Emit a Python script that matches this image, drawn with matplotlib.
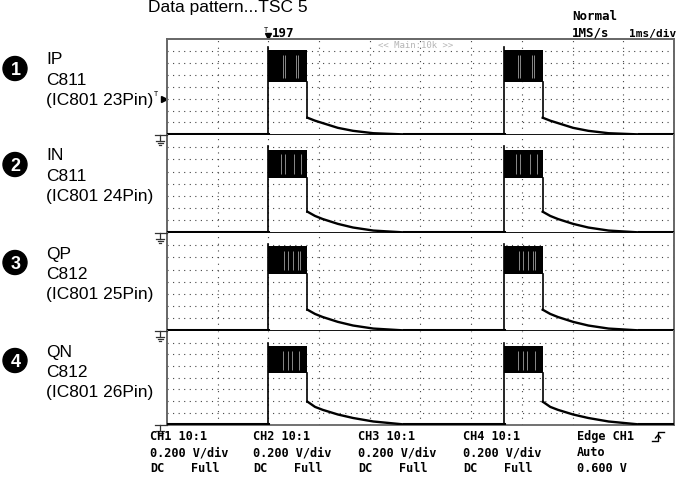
#!/usr/bin/env python3
"""Four channel scope capture (IP / IN / QP / QN), redrawn with matplotlib."""

import matplotlib
matplotlib.use("Agg")
import matplotlib.pyplot as plt
from matplotlib.patches import Ellipse
from matplotlib.lines import Line2D
from matplotlib.transforms import blended_transform_factory

# Channel data (1 ms/div, 0.2 V/div, ground at panel bottom)
channels = ["IP", "IN", "QP", "QN"]
capacitors = ["C811", "C811", "C812", "C812"]
pins = ["(IC801 23Pin)", "(IC801 24Pin)", "(IC801 25Pin)", "(IC801 26Pin)"]
burst_starts = [0.0, 4.64]          # ms
burst_length = 0.77                 # ms
burst_top = [1.42, 1.36, 1.38, 1.34]      # V
burst_bottom = [0.88, 0.90, 0.93, 0.88]   # V
burst_peak = [1.46, 1.42, 1.42, 1.40]     # V, spike on the leading edge
stripe_offsets = [
    [0.28, 0.32, 0.55, 0.59],
    [0.24, 0.32, 0.51, 0.65],
    [0.30, 0.38, 0.48, 0.58, 0.62],
    [0.28, 0.38, 0.47, 0.61],
]
decay_t = [0.0, 0.15, 0.3, 0.6, 0.9, 1.3, 1.9]   # ms after the burst
decay_v = [
    [0.28, 0.23, 0.19, 0.11, 0.06, 0.02, 0.0],
    [0.34, 0.27, 0.22, 0.14, 0.08, 0.03, 0.0],
    [0.34, 0.27, 0.22, 0.14, 0.08, 0.03, 0.0],
    [0.39, 0.30, 0.25, 0.17, 0.11, 0.05, 0.0],
]
trigger_level = 0.6   # V on CH1

# Readout text along the bottom of the screen
readout_ch = ["CH1 10:1", "CH2 10:1", "CH3 10:1", "CH4 10:1"]
readout_scale = ["0.200 V/div"] * 4
readout_coupling = ["DC", "DC", "DC", "DC"]
readout_bw = ["Full", "Full", "Full", "Full"]
trigger_info = ["Edge CH1", "Auto", "0.600 V"]

# Layout in pixels
W, H = 677, 478
FRAME_L, FRAME_R = 167, 674
panel_edges = [39, 135, 233, 331, 425]
T_MIN, T_MAX = -2.0, 8.0
V_MAX = 1.6

SANS = "Liberation Sans"
MONO = "DejaVu Sans Mono"


def fx(x):
    return x / W


def fy(y):
    return 1 - y / H


fig = plt.figure(figsize=(W / 100, H / 100), dpi=100)
fig.patch.set_facecolor("white")

axes = []
for i in range(4):
    top, bottom = panel_edges[i], panel_edges[i + 1]
    ax = fig.add_axes([fx(FRAME_L), fy(bottom), (FRAME_R - FRAME_L) / W, (bottom - top) / H])
    ax.set_xlim(T_MIN, T_MAX)
    ax.set_ylim(-0.01, V_MAX)
    ax.set_xticks([])
    ax.set_yticks([])
    for side in ["left", "right"]:
        ax.spines[side].set_color("#666666")
        ax.spines[side].set_linewidth(1.4)
    ax.spines["top"].set_visible(i == 0)
    ax.spines["top"].set_color("#666666")
    ax.spines["top"].set_linewidth(1.4)
    ax.spines["bottom"].set_color("black" if i < 3 else "#666666")
    ax.spines["bottom"].set_linewidth(1.3)

    # dotted graticule
    for k in range(1, 8):
        ax.axhline(k * 0.2, color="#444444", lw=0.8, ls=(0, (1, 4)), zorder=1)
    for k in range(1, 10):
        ax.axvline(T_MIN + k, color="#444444", lw=0.8, ls=(0, (1, 5)), zorder=1)

    # trace
    ends = [s + burst_length for s in burst_starts]
    flat_from = [T_MIN] + [e + decay_t[-1] for e in ends]
    flat_to = burst_starts + [T_MAX]
    for a, b in zip(flat_from, flat_to):
        ax.plot([a, b], [0, 0], color="black", lw=2.2, zorder=3)
    for s, e in zip(burst_starts, ends):
        ax.fill_between([s, e], burst_bottom[i], burst_top[i], color="black", lw=0, zorder=3)
        ax.plot([s, s], [0, burst_peak[i]], color="black", lw=1.2, zorder=3)
        ax.vlines([s + o for o in stripe_offsets[i]], burst_bottom[i] + 0.06, burst_top[i] - 0.08,
                  color="#8a8a8a", lw=0.7, zorder=4)
        ax.plot([e, e], [burst_bottom[i], decay_v[i][0]], color="black", lw=1.2, zorder=3)
        ax.plot([e + t for t in decay_t], decay_v[i], color="black", lw=1.7, zorder=3)
    axes.append(ax)

# channel labels on the left
for i in range(4):
    top = panel_edges[i]
    fig.add_artist(Ellipse((fx(15), fy(top + 29.5)), 24 / W, 24 / H,
                           transform=fig.transFigure, color="black"))
    fig.text(fx(15.5), fy(top + 29.5), str(i + 1), color="white", fontsize=13,
             fontweight="bold", family=SANS, ha="center", va="center_baseline")
    for j, line in enumerate([channels[i], capacitors[i], pins[i]]):
        fig.text(fx(46), fy(top + 25.5 + 20.5 * j), line, fontsize=12.5,
                 family=SANS, ha="left", va="baseline")

# ground markers at each channel's zero level
for i in range(4):
    y0 = panel_edges[i + 1]
    segs = [((155, FRAME_L), (y0, y0)), ((160, 160), (y0, y0 + 6)),
            ((156, 164), (y0 + 6, y0 + 6)), ((157.5, 162.5), (y0 + 8, y0 + 8)),
            ((159, 161), (y0 + 10, y0 + 10))]
    for xs, ys in segs:
        fig.add_artist(Line2D([fx(x) for x in xs], [fy(y) for y in ys],
                              transform=fig.transFigure, color="#333333", lw=0.9))

# trigger level marker on CH1
lvl = blended_transform_factory(axes[0].transAxes, axes[0].transData)
axes[0].plot([-0.006], [trigger_level], marker=">", ms=4, color="black",
             transform=lvl, clip_on=False)
axes[0].text(-0.018, trigger_level + 0.03, "T", fontsize=5, family=MONO,
             ha="right", va="bottom", transform=lvl)

# trigger position marker above the screen
pos = blended_transform_factory(axes[0].transData, axes[0].transAxes)
axes[0].plot([0], [1.03], marker="v", ms=4, color="black", transform=pos, clip_on=False)
axes[0].text(-0.05, 1.06, "T", fontsize=5, family=MONO, ha="center", va="bottom", transform=pos)
fig.text(fx(272), fy(37), "197", fontsize=9, family=MONO, fontweight="bold", va="baseline")

# header text
fig.text(fx(148), fy(12), "Data pattern...TSC 5", fontsize=12.5, family=SANS, va="baseline")
fig.text(fx(572), fy(20), "Normal", fontsize=9, family=MONO, fontweight="bold", va="baseline")
fig.text(fx(572), fy(37), "1MS/s", fontsize=9, family=MONO, fontweight="bold", va="baseline")
fig.text(fx(629), fy(37), "1ms/div", fontsize=8, family=MONO, fontweight="bold", va="baseline")
fig.text(fx(378), fy(45), "<< Main:10k >>", fontsize=6.5, family=MONO, color="#b5b5b5",
         va="center")

# readout along the bottom
col_x = [150, 253, 358, 463]
RO = 8.6
for k in range(4):
    fig.text(fx(col_x[k]), fy(440), readout_ch[k], fontsize=RO, family=MONO,
             fontweight="bold", va="baseline")
    fig.text(fx(col_x[k]), fy(456), readout_scale[k], fontsize=RO, family=MONO,
             fontweight="bold", va="baseline")
    fig.text(fx(col_x[k]), fy(472), readout_coupling[k], fontsize=RO, family=MONO,
             fontweight="bold", va="baseline")
    fig.text(fx(col_x[k] + 41), fy(472), readout_bw[k], fontsize=RO, family=MONO,
             fontweight="bold", va="baseline")
for j, line in enumerate(trigger_info):
    fig.text(fx(577), fy(440 + 16 * j), line, fontsize=RO, family=MONO,
             fontweight="bold", va="baseline")
# rising edge glyph
fig.add_artist(Line2D([fx(x) for x in [652, 658, 658, 664]], [fy(y) for y in [441, 441, 432, 432]],
                      transform=fig.transFigure, color="black", lw=1.0))
fig.add_artist(Line2D([fx(x) for x in [655.5, 658, 660.5]], [fy(y) for y in [438, 435, 438]],
                      transform=fig.transFigure, color="black", lw=1.0))

fig.savefig("out.png", dpi=100)
